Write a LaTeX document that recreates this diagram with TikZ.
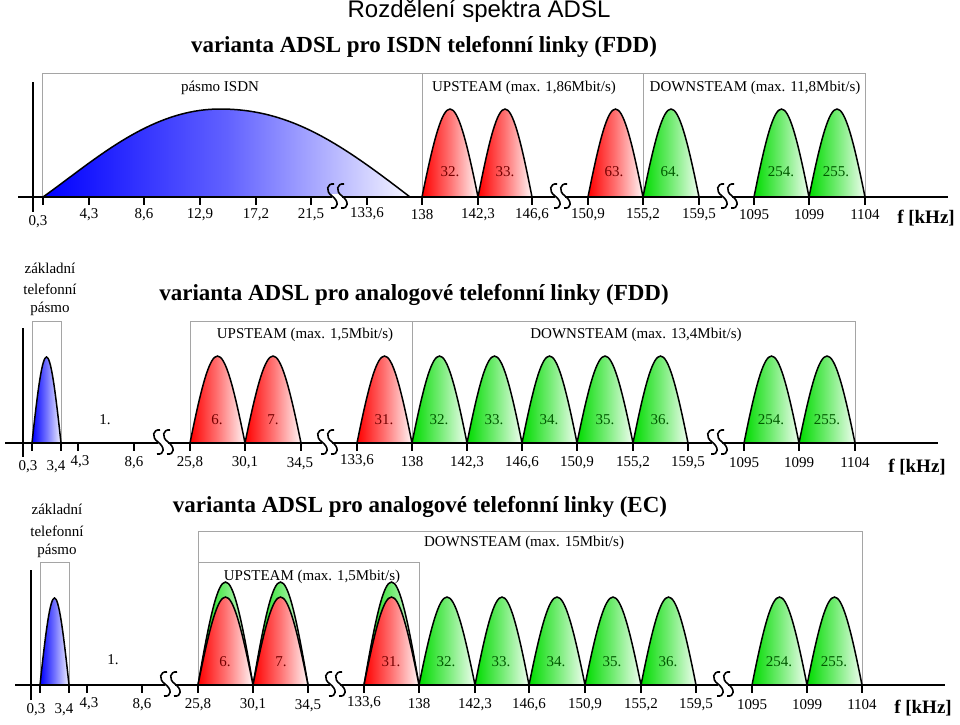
\documentclass[tikz,border=0pt]{standalone}
\usepackage{fontspec}
\setmainfont{Liberation Serif}
\newfontfamily\sansf{Liberation Sans}
\definecolor{boxgray}{RGB}{165,165,165}
\definecolor{rd}{RGB}{255,0,0}
\definecolor{gr}{RGB}{0,220,0}
\definecolor{bl}{RGB}{0,0,255}
\newcommand{\myhump}[5]{%
  \pgfmathsetmacro{\hxa}{#1+0.424*(#2-#1)}%
  \pgfmathsetmacro{\hxb}{#2-0.424*(#2-#1)}%
  \pgfmathsetmacro{\hyc}{#3-4/3*(#3-#4)}%
  \path[#5] (#1,#3) .. controls (\hxa,\hyc) and (\hxb,\hyc) .. (#2,#3) -- cycle;}
\newcommand{\mybreak}[2]{%
  \fill[white] ({#1-5},{#2-1.8}) rectangle ({#1+5},{#2+1.8});
  \foreach \dx in {-5,5}{%
    \draw[line width=1.6pt] ({#1+\dx+2},{#2-12}) .. controls ({#1+\dx-5},{#2-13}) and ({#1+\dx-7},{#2-5}) .. ({#1+\dx},{#2}) .. controls ({#1+\dx+7},{#2+5}) and ({#1+\dx+7},{#2+13}) .. ({#1+\dx-1},{#2+12});}}
\begin{document}
\begin{tikzpicture}[x=1pt,y=-1pt,
  axisl/.style={line width=1.8pt},
  tickm/.style={line width=1.3pt},
  gbox/.style={draw=boxgray,line width=0.8pt},
  hline/.style={draw=black,line width=1.5pt},
  redh/.style={hline,left color=rd,right color=rd!4,middle color=rd!55},
  greenh/.style={hline,left color=gr,right color=gr!6,middle color=gr!55},
  blueh/.style={hline,left color=bl,right color=bl!5,middle color=bl!55},
  lab/.style={font=\fontsize{15}{17}\selectfont,inner sep=0pt},
  hlr/.style={lab,text=rd!45!black},
  hlg/.style={lab,text=gr!40!black},
  ttl/.style={font=\fontsize{23}{26}\selectfont\bfseries,inner sep=0pt},
  fk/.style={font=\fontsize{19}{21}\selectfont\bfseries,inner sep=0pt}]
\useasboundingbox[fill=white] (0,0) rectangle (960,724);

% ---------- title ----------
\node[font=\sansf\fontsize{24}{27}\selectfont,inner sep=0pt] (title) at (479,11) {Rozdělení spektra ADSL};

% ---------- panel 1 ----------
\node[ttl] (t1) at (424,47) {varianta ADSL pro ISDN telefonní linky (FDD)};
\draw[gbox] (42,197) -- (42,73) -- (865,73) -- (865,197);
\draw[gbox] (422,73) -- (422,197);
\draw[gbox] (643,73) -- (643,197);
\path[hline,left color=bl,right color=bl!4,middle color=bl!62] (43,197) .. controls (95,160) and (150,109) .. (220,109) .. controls (290,109) and (340,143) .. (410,197) -- cycle;
\myhump{422}{478}{197}{109}{redh}
\myhump{478}{532}{197}{109}{redh}
\myhump{588}{643}{197}{109}{redh}
\myhump{643}{699}{197}{109}{greenh}
\myhump{754}{809}{197}{109}{greenh}
\myhump{809}{865}{197}{109}{greenh}
\node[lab] (b1a) at (220,88) {pásmo ISDN};
\node[lab] (b1b) at (524,88) {UPSTEAM (max. 1,86Mbit/s)};
\node[lab] (b1c) at (755,88) {DOWNSTEAM (max. 11,8Mbit/s)};
\node[hlr] (h1a) at (450,172) {32.};
\node[hlr] (h1b) at (505,172) {33.};
\node[hlr] (h1c) at (614,172) {63.};
\node[hlg] (h1d) at (670,172) {64.};
\node[hlg] (h1e) at (781,172) {254.};
\node[hlg] (h1f) at (836,172) {255.};
\draw[axisl] (18,197) -- (948,197);
\draw[axisl] (33,82) -- (33,212);
\foreach \x/\lx/\ly/\t [count=\i] in {43/38/222/{0,3},89/89/215/{4,3},144/144/215/{8,6},200/200/215/{12,9},256/256/215/{17,2},311/311/215/{21,5},367/367/214/{133,6},422/422/215/{138},478/478/215/{142,3},532/532/215/{146,6},588/588/215/{150,9},643/643/215/{155,2},699/699/215/{159,5},754/754/215/{1095},809/809/215/{1099},865/865/215/{1104}}
  {\draw[tickm] (\x,197) -- (\x,205); \node[lab] (pa\i) at (\lx,\ly) {\t};}
\mybreak{337}{196}
\mybreak{560}{196}
\mybreak{727}{196}
\node[fk] (fk1) at (926,218) {f [kHz]};

% ---------- panel 2 ----------
\node[lab] (z2a) at (50,268) {základní};
\node[lab] (z2b) at (50,289) {telefonní};
\node[lab] (z2c) at (50,309) {pásmo};
\node[ttl] (t2) at (414,295) {varianta ADSL pro analogové telefonní linky (FDD)};
\draw[gbox] (32,443) -- (32,321) -- (61,321) -- (61,443);
\draw[gbox] (190,443) -- (190,321) -- (855,321) -- (855,443);
\draw[gbox] (412,321) -- (412,443);
\myhump{32}{61}{443}{357}{blueh}
\myhump{190}{245}{443}{356}{redh}
\myhump{245}{301}{443}{356}{redh}
\myhump{357}{412}{443}{356}{redh}
\foreach \a/\b in {412/467,467/522,522/577,577/633,633/688,744/799,799/855}
  {\myhump{\a}{\b}{443}{356}{greenh}}
\node[lab] (b2a) at (305,335) {UPSTEAM (max. 1,5Mbit/s)};
\node[lab] (b2b) at (636,335) {DOWNSTEAM (max. 13,4Mbit/s)};
\node[lab] (one2) at (105,420) {1.};
\node[hlr] (h2a) at (217,420) {6.};
\node[hlr] (h2b) at (273,420) {7.};
\node[hlr] (h2c) at (384,420) {31.};
\foreach \x/\t [count=\i] in {439/32.,494/33.,549/34.,605/35.,660/36.,771/254.,827/255.}
  {\node[hlg] (g2\i) at (\x,420) {\t};}
\draw[axisl] (5,443) -- (938,443);
\draw[axisl] (23,328) -- (23,457);
\foreach \x/\lx/\ly/\t [count=\i] in {32/28/467/{0,3},61/56/467/{3,4},78/80/462/{4,3},134/134/463/{8,6},190/190/463/{25,8},245/245/463/{30,1},301/300/464/{34,5},357/357/461/{133,6},412/412/462/{138},467/467/463/{142,3},522/522/463/{146,6},577/577/463/{150,9},633/633/463/{155,2},688/688/463/{159,5},744/744/463/{1095},799/799/463/{1099},855/855/463/{1104}}
  {\draw[tickm] (\x,443) -- (\x,451); \node[lab] (pb\i) at (\lx,\ly) {\t};}
\mybreak{163}{442}
\mybreak{327}{442}
\mybreak{717}{442}
\node[fk] (fk2) at (917,467) {f [kHz]};

% ---------- panel 3 ----------
\node[lab] (z3a) at (57,509) {základní};
\node[lab] (z3b) at (57,531) {telefonní};
\node[lab] (z3c) at (57,551) {pásmo};
\node[ttl] (t3) at (420,507) {varianta ADSL pro analogové telefonní linky (EC)};
\draw[gbox] (40,685) -- (40,562) -- (69,562) -- (69,685);
\draw[gbox] (198,685) -- (198,531) -- (862,531) -- (862,685);
\draw[gbox] (198,562) -- (419,562) -- (419,685);
\myhump{40}{69}{685}{598}{blueh}
\foreach \a/\b in {198/253,253/308,364/419}
  {\myhump{\a}{\b}{685}{582}{greenh}\myhump{\a}{\b}{685}{597}{redh}}
\foreach \a/\b in {419/475,475/529,529/585,585/641,641/696,752/807,807/862}
  {\myhump{\a}{\b}{685}{597}{greenh}}
\node[lab] (b3a) at (524,543) {DOWNSTEAM (max. 15Mbit/s)};
\node[lab] (b3b) at (312,577) {UPSTEAM (max. 1,5Mbit/s)};
\node[lab] (one3) at (113,660) {1.};
\node[hlr] (h3a) at (225,662) {6.};
\node[hlr] (h3b) at (281,662) {7.};
\node[hlr] (h3c) at (391,662) {31.};
\foreach \x/\t [count=\i] in {446/32.,501/33.,556/34.,612/35.,668/36.,779/254.,834/255.}
  {\node[hlg] (g3\i) at (\x,662) {\t};}
\draw[axisl] (15,685) -- (945,685);
\draw[axisl] (31,570) -- (31,700);
\foreach \x/\lx/\ly/\t [count=\i] in {40/36/710/{0,3},69/64/710/{3,4},87/89/704/{4,3},142/142/705/{8,6},198/198/705/{25,8},253/253/705/{30,1},308/308/706/{34,5},364/364/703/{133,6},419/419/704/{138},475/475/705/{142,3},529/529/705/{146,6},585/585/705/{150,9},641/641/705/{155,2},696/696/705/{159,5},752/752/705/{1095},807/807/705/{1099},862/862/705/{1104}}
  {\draw[tickm] (\x,685) -- (\x,693); \node[lab] (pc\i) at (\lx,\ly) {\t};}
\mybreak{170}{684}
\mybreak{335}{684}
\mybreak{723}{684}
\node[fk] (fk3) at (923,708) {f [kHz]};
\end{tikzpicture}
\end{document}
